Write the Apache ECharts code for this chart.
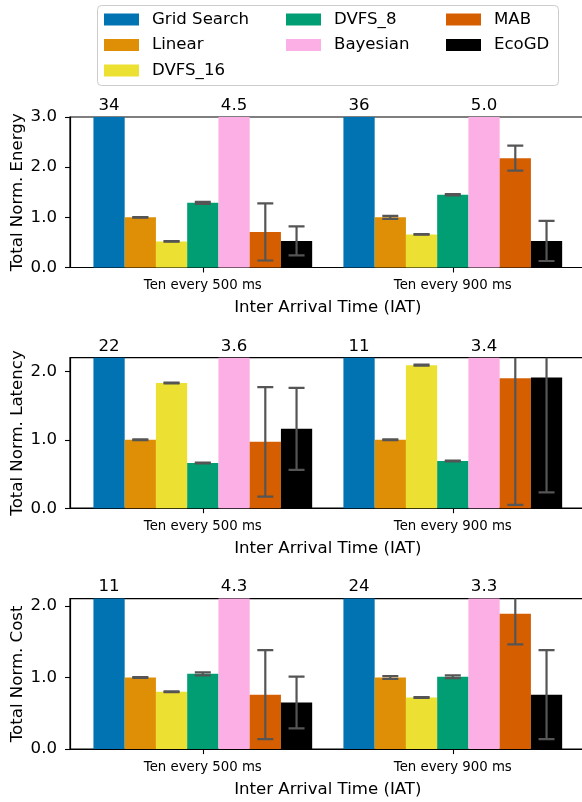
<!DOCTYPE html>
<html>
<head>
<meta charset="utf-8">
<script src="https://cdn.jsdelivr.net/npm/echarts@6/dist/echarts.min.js"></script>
<style>
html, body { margin: 0; padding: 0; background: #fff; }
#chart { width: 582px; height: 802px; }
</style>
</head>
<body>
<div id="chart"></div>
<script>
var categories = ['Ten every 500 ms', 'Ten every 900 ms'];
var methods = ['Grid Search', 'Linear', 'DVFS_16', 'DVFS_8', 'Bayesian', 'MAB', 'EcoGD'];
var colors = ['#0173b2', '#de8f05', '#ece133', '#029e73', '#fbafe4', '#d55e00', '#000000'];

// one pair per method: [500 ms, 900 ms]
var energy    = [[34, 36], [1.0, 1.0], [0.52, 0.66], [1.29, 1.45], [4.5, 5.0], [0.71, 2.18], [0.53, 0.53]];
var energyErr = [[0, 0], [0.005, 0.03], [0.005, 0.005], [0.02, 0.015], [0, 0], [0.57, 0.25], [0.29, 0.40]];

var latency    = [[22, 11], [1.0, 1.0], [1.83, 2.09], [0.66, 0.69], [3.6, 3.4], [0.97, 1.90], [1.16, 1.91]];
var latencyErr = [[0, 0], [0.005, 0.005], [0.005, 0.008], [0.005, 0.005], [0, 0], [0.80, 1.85], [0.60, 1.68]];

var cost    = [[11, 24], [1.0, 1.0], [0.80, 0.72], [1.05, 1.01], [4.3, 3.3], [0.76, 1.89], [0.65, 0.76]];
var costErr = [[0, 0], [0.005, 0.02], [0.005, 0.005], [0.02, 0.02], [0, 0], [0.62, 0.43], [0.36, 0.62]];

var yTitles = ['Total Norm. Energy', 'Total Norm. Latency', 'Total Norm. Cost'];
var yMax = [3.0, 2.2, 2.1];
var yTicks = [[0, 1, 2, 3], [0, 1, 2], [0, 1, 2]];

var panels = [
    {mean: energy, err: energyErr},
    {mean: latency, err: latencyErr},
    {mean: cost, err: costErr}
];

var FONT = 'DejaVu Sans';
var gridTops = [117, 357.7, 598.6];
var BAR_FRAC = 0.125;

function errRender(params, api) {
    var m = api.value(0), x = api.value(1), mean = api.value(2), err = api.value(3);
    if (!err) return null;
    var bw = api.size([1, 0])[0] * BAR_FRAC;
    var cx = api.coord([x, 0])[0] + (m - 3) * bw;
    var yt = api.coord([x, mean + err])[1];
    var yb = api.coord([x, mean - err])[1];
    var st = {stroke: '#555555', lineWidth: 2.2};
    return {
        type: 'group',
        children: [
            {type: 'line', shape: {x1: cx, y1: yt, x2: cx, y2: yb}, style: st},
            {type: 'line', shape: {x1: cx - 8, y1: yt, x2: cx + 8, y2: yt}, style: st},
            {type: 'line', shape: {x1: cx - 8, y1: yb, x2: cx + 8, y2: yb}, style: st}
        ]
    };
}

function labelRender(top) {
    return function (params, api) {
        var m = api.value(0), x = api.value(1), v = api.value(2);
        var bw = api.size([1, 0])[0] * BAR_FRAC;
        var cx = api.coord([x, 0])[0] + (m - 3) * bw;
        var y = api.coord([x, top])[1];
        return {
            type: 'text',
            x: cx,
            y: y - 3,
            style: {
                text: m === 0 ? v.toFixed(0) : v.toFixed(1),
                fill: '#000',
                fontSize: 16.6,
                fontFamily: FONT,
                align: 'center',
                verticalAlign: 'bottom'
            }
        };
    };
}

var grids = [], xAxes = [], yAxes = [], series = [];

panels.forEach(function (p, pi) {
    grids.push({
        left: 70, width: 515.6, top: gridTops[pi], height: 150.5,
        outerBoundsMode: 'none',
        show: true, borderColor: '#000', borderWidth: 1.2, backgroundColor: 'transparent'
    });
    xAxes.push({
        type: 'value', gridIndex: pi, min: -0.53125, max: 1.53125,
        splitLine: {show: false},
        axisLine: {show: true, onZero: false, lineStyle: {color: '#000', width: 1.2}},
        axisTick: {show: true, length: 5, customValues: [0, 1], lineStyle: {color: '#000', width: 1.1}},
        axisLabel: {
            customValues: [0, 1], margin: 12, color: '#000', fontSize: 13.3, fontFamily: FONT,
            formatter: function (v) { return categories[Math.round(v)]; }
        },
        name: 'Inter Arrival Time (IAT)', nameLocation: 'middle', nameGap: 32,
        nameTextStyle: {color: '#000', fontSize: 16.6, fontFamily: FONT}
    });
    yAxes.push({
        type: 'value', gridIndex: pi, min: 0, max: yMax[pi],
        splitLine: {show: false},
        axisLine: {show: true, onZero: false, lineStyle: {color: '#000', width: 1.2}},
        axisTick: {show: true, length: 5, customValues: yTicks[pi], lineStyle: {color: '#000', width: 1.1}},
        axisLabel: {
            customValues: yTicks[pi], margin: 13, color: '#000', fontSize: 16.6, fontFamily: FONT,
            formatter: function (v) { return v.toFixed(1); }
        },
        name: yTitles[pi], nameLocation: 'middle', nameGap: 44, nameRotate: 90,
        nameMoveOverlap: false,
        nameTextStyle: {color: '#000', fontSize: 16.6, fontFamily: FONT}
    });

    methods.forEach(function (name, mi) {
        series.push({
            type: 'bar', name: name, xAxisIndex: pi, yAxisIndex: pi,
            barWidth: (BAR_FRAC * 100) + '%', barGap: '0%',
            itemStyle: {color: colors[mi]},
            clip: true,
            data: p.mean[mi].map(function (v, ci) { return [ci, v]; })
        });
    });

    var errData = [];
    methods.forEach(function (name, mi) {
        p.mean[mi].forEach(function (v, ci) { errData.push([mi, ci, v, p.err[mi][ci]]); });
    });
    series.push({
        type: 'custom', xAxisIndex: pi, yAxisIndex: pi, z: 5, clip: true,
        encode: {x: 1, y: 2},
        renderItem: errRender,
        data: errData
    });

    // values of bars that run past the top of the axes
    var topData = [];
    [0, 4].forEach(function (mi) {
        p.mean[mi].forEach(function (v, ci) { topData.push([mi, ci, v]); });
    });
    series.push({
        type: 'custom', xAxisIndex: pi, yAxisIndex: pi, z: 5, clip: false,
        encode: {x: 1},
        renderItem: labelRender(yMax[pi]),
        data: topData
    });
});

var legendCols = [[0, 1, 2], [3, 4], [5, 6]];
var legendLeft = [104, 286, 446];
var legends = legendCols.map(function (col, i) {
    return {
        data: col.map(function (k) { return methods[k]; }),
        orient: 'vertical', left: legendLeft[i], top: 11, padding: 0,
        itemWidth: 35, itemHeight: 12, itemGap: 8.5, icon: 'rect',
        selectedMode: false,
        textStyle: {color: '#000', fontSize: 16.6, fontFamily: FONT, padding: [0, 0, 0, 8]}
    };
});

var chart = echarts.init(document.getElementById('chart'), null, {renderer: 'canvas'});
chart.setOption({
    animation: false,
    backgroundColor: '#fff',
    graphic: [{
        type: 'rect', left: 97, top: 5, z: -1,
        shape: {width: 461, height: 80, r: 4},
        style: {fill: '#fff', stroke: '#cccccc', lineWidth: 1}
    }],
    legend: legends,
    grid: grids,
    xAxis: xAxes,
    yAxis: yAxes,
    series: series
});
</script>
</body>
</html>
